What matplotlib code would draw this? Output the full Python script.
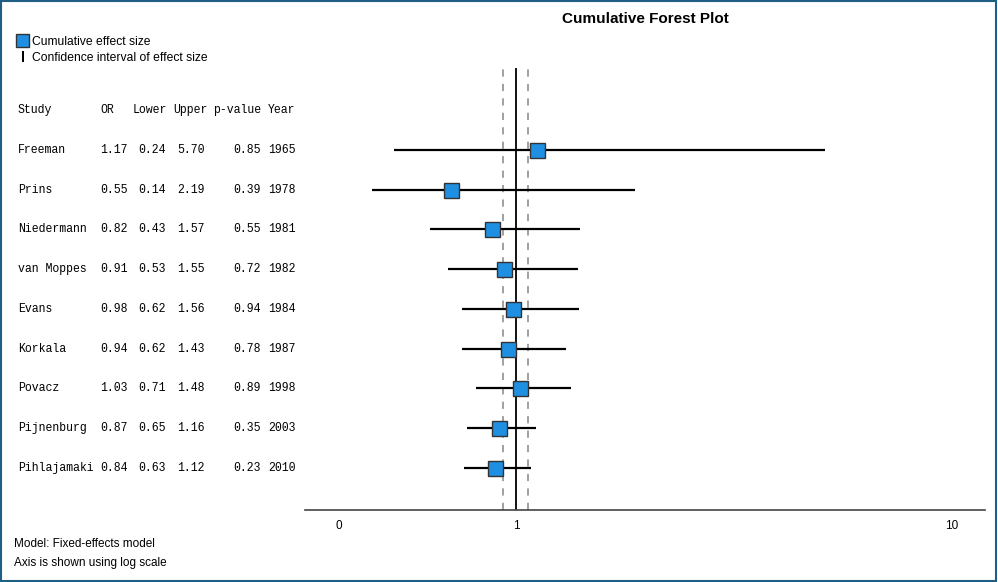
import numpy as np
import matplotlib
matplotlib.use("Agg")
import matplotlib.pyplot as plt
import matplotlib.transforms as mtransforms
from matplotlib.patches import Rectangle

# ── Dados ────────────────────────────────────────────────────────────────────
estudos = ["Freeman", "Prins", "Niedermann", "van Moppes", "Evans",
           "Korkala", "Povacz", "Pijnenburg", "Pihlajamaki"]
odds_ratio = [1.17, 0.55, 0.82, 0.91, 0.98, 0.94, 1.03, 0.87, 0.84]
inferior = [0.24, 0.14, 0.43, 0.53, 0.62, 0.62, 0.71, 0.65, 0.63]
superior = [5.70, 2.19, 1.57, 1.55, 1.56, 1.43, 1.48, 1.16, 1.12]
p_valor = [0.85, 0.39, 0.55, 0.72, 0.94, 0.78, 0.89, 0.35, 0.23]
anos = [1965, 1978, 1981, 1982, 1984, 1987, 1998, 2003, 2010]
linhas_tracejadas = [0.90, 1.10]
ticks_x = [0, 1, 10]

AZUL = "#1E8FE1"
MONO = "Liberation Mono"
SANS = "Liberation Sans"

fig = plt.figure(figsize=(9.98, 5.82), dpi=100)
ax = fig.add_axes([305 / 998, 1 - 510 / 582, 680 / 998, 442 / 582])

# escala log(1 + x), como no gráfico original
ax.set_xscale("function", functions=(lambda x: np.log10(1 + x),
                                      lambda y: 10 ** y - 1))
ax.set_xlim(-0.1246, 11.55)
ax.set_ylim(9.06, -2.06)

linhas = np.arange(len(estudos))
ax.hlines(linhas, inferior, superior, color="black", linewidth=1.6, zorder=3)
ax.plot(odds_ratio, linhas, "s", markersize=10.8, markerfacecolor=AZUL,
        markeredgecolor="#333333", markeredgewidth=1.0, zorder=4)

ax.axvline(1, color="black", linewidth=1.3, zorder=2)
for v in linhas_tracejadas:
    ax.axvline(v, color="#999999", linewidth=1.3, linestyle=(0, (4, 4)), zorder=1)

for s in ["top", "right", "left"]:
    ax.spines[s].set_visible(False)
ax.spines["bottom"].set_color("#444444")
ax.spines["bottom"].set_linewidth(1.2)
ax.set_yticks([])
ax.set_xticks(ticks_x)
ax.set_xticklabels([str(t) for t in ticks_x], fontsize=8.5, family=SANS)
ax.xaxis.set_minor_locator(matplotlib.ticker.NullLocator())
ax.tick_params(axis="x", length=0, pad=7)

# ── Tabela à esquerda ───────────────────────────────────────────────────────
trans = mtransforms.blended_transform_factory(fig.transFigure, ax.transData)
def px(x):
    return x / 998

cab = [("Study", 18), ("OR", 100), ("Lower", 133), ("Upper", 173),
       ("p-value", 213), ("Year", 268)]
for txt, x in cab:
    ax.text(px(x), -1, txt, transform=trans, family=MONO, fontsize=8.3,
            va="center", ha="left", clip_on=False)

for i in linhas:
    ax.text(px(18), i, estudos[i], transform=trans, family=MONO, fontsize=8.3,
            va="center", ha="left")
    ax.text(px(100), i, f"{odds_ratio[i]:.2f}", transform=trans, family=MONO,
            fontsize=8.3, va="center", ha="left")
    ax.text(px(138), i, f"{inferior[i]:.2f}", transform=trans, family=MONO,
            fontsize=8.3, va="center", ha="left")
    ax.text(px(177), i, f"{superior[i]:.2f}", transform=trans, family=MONO,
            fontsize=8.3, va="center", ha="left")
    ax.text(px(233), i, f"{p_valor[i]:.2f}", transform=trans, family=MONO,
            fontsize=8.3, va="center", ha="left")
    ax.text(px(268), i, str(anos[i]), transform=trans, family=MONO,
            fontsize=8.3, va="center", ha="left")

# ── Título, legenda e notas ─────────────────────────────────────────────────
fig.text(645 / 998, 1 - 19 / 582, "Cumulative Forest Plot", ha="center",
         va="center", fontsize=11, fontweight="bold", family=SANS)

fig.patches.append(Rectangle((16 / 998, 1 - 47 / 582), 13 / 998, 13 / 582,
                             transform=fig.transFigure, facecolor=AZUL,
                             edgecolor="#333333", linewidth=1.0))
fig.patches.append(Rectangle((21.5 / 998, 1 - 62 / 582), 2 / 998, 11 / 582,
                             transform=fig.transFigure, facecolor="black",
                             edgecolor="none"))
fig.text(32 / 998, 1 - 42 / 582, "Cumulative effect size", va="center",
         fontsize=8.7, family=SANS)
fig.text(32 / 998, 1 - 58 / 582, "Confidence interval of effect size",
         va="center", fontsize=8.7, family=SANS)

fig.text(14 / 998, 1 - 544 / 582, "Model: Fixed-effects model", va="center",
         fontsize=8.5, family=SANS)
fig.text(14 / 998, 1 - 563 / 582, "Axis is shown using log scale",
         va="center", fontsize=8.5, family=SANS)

# moldura
fig.patches.append(Rectangle((0.001, 0.002), 0.997, 0.996,
                             transform=fig.transFigure, facecolor="none",
                             edgecolor="#1F5F86", linewidth=1.5))

plt.savefig("out.png", dpi=100)
plt.close()
